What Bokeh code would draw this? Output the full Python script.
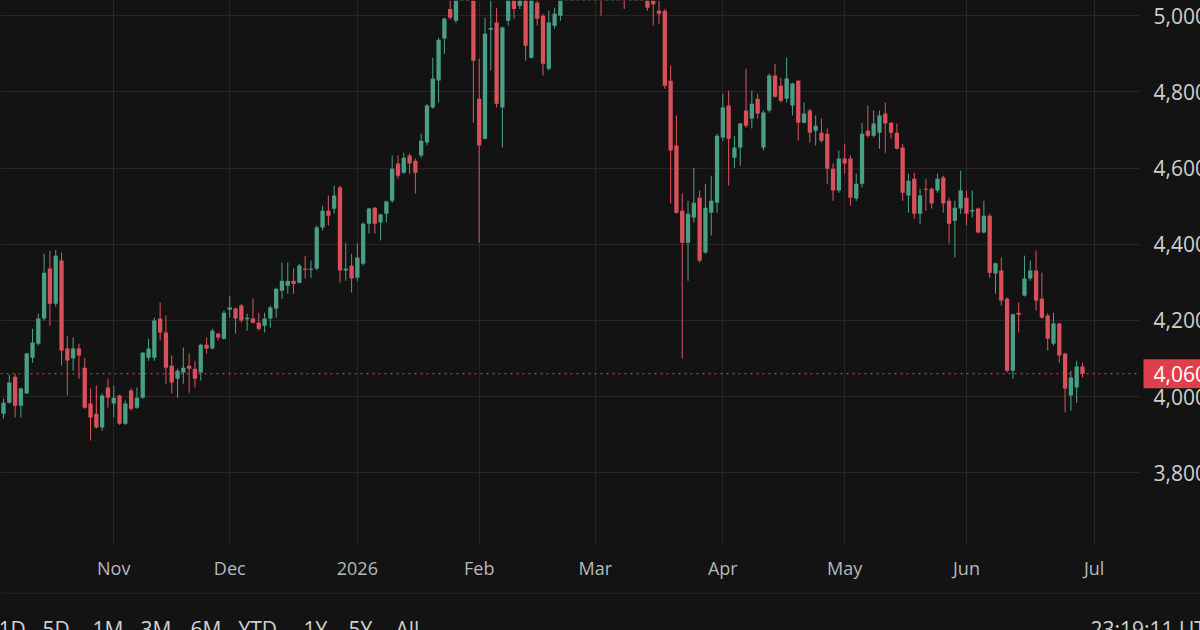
from bokeh.plotting import figure
from bokeh.layouts import column, row
from bokeh.models import FixedTicker, LinearAxis, Span, Range1d, ColumnDataSource
from bokeh.core.properties import value
from bokeh.embed import file_html
from bokeh.resources import INLINE

# ---------------- data (daily OHLC) ----------------
opens = [3955, 3984, 4052, 3976, 4008, 4102, 4139, 4205, 4336, 4244,
         4357, 4126, 4100, 4126, 4076, 3982, 3955, 3919, 4024, 3982,
         4003, 3929, 4016, 3971, 3997, 4102, 4102, 4205, 4168, 4081,
         4047, 4063, 4081, 4073, 4063, 4136, 4126, 4165, 4152, 4228,
         4231, 4239, 4203, 4205, 4194, 4186, 4205, 4231, 4278, 4291,
         4304, 4299, 4336, 4333, 4336, 4444, 4488, 4493, 4549, 4331,
         4344, 4312, 4349, 4454, 4496, 4457, 4480, 4514, 4612, 4588,
         4633, 4619, 4633, 4667, 4759, 4830, 4940, 5018, 4987, 5070,
         5150, 5100, 4782, 4677, 4963, 4982, 4759, 4987, 5060, 5026,
         5080, 4890, 5034, 5000, 4861, 4974, 5000, 5060, 5120, 5100,
         5150, 5200, 5180, 5210, 5070, 5130, 5170, 5120, 5060, 5120,
         5100, 5090, 5060, 5013, 5013, 4829, 4659, 4488, 4404, 4470,
         4522, 4378, 4483, 4509, 4680, 4764, 4627, 4654, 4751, 4730,
         4782, 4654, 4751, 4843, 4816, 4782, 4764, 4829, 4719, 4751,
         4698, 4693, 4690, 4598, 4541, 4625, 4625, 4520, 4559, 4698,
         4685, 4693, 4743, 4719, 4693, 4654, 4528, 4572, 4480, 4546,
         4546, 4541, 4575, 4514, 4462, 4494, 4522, 4486, 4494, 4431,
         4475, 4323, 4331, 4257, 4068, 4220, 4265, 4310, 4331, 4257,
         4213, 4139, 4192, 4113, 4003, 4024, 4079]
highs = [3995, 4058, 4060, 4024, 4115, 4178, 4218, 4375, 4383, 4385,
         4378, 4160, 4155, 4139, 4102, 4021, 4029, 4008, 4047, 4029,
         4005, 3990, 4021, 4024, 4118, 4152, 4207, 4247, 4213, 4108,
         4073, 4129, 4113, 4094, 4139, 4155, 4178, 4168, 4226, 4265,
         4234, 4244, 4218, 4257, 4220, 4220, 4239, 4286, 4352, 4352,
         4336, 4349, 4370, 4357, 4449, 4501, 4528, 4554, 4554, 4404,
         4375, 4402, 4457, 4496, 4498, 4480, 4514, 4633, 4633, 4640,
         4638, 4625, 4690, 4769, 4890, 4942, 4995, 5060, 5100, 5180,
         5200, 5130, 4887, 4995, 5060, 5021, 4971, 5080, 5090, 5110,
         5100, 5090, 5070, 5005, 5013, 5021, 5090, 5140, 5180, 5160,
         5230, 5260, 5240, 5250, 5150, 5200, 5220, 5160, 5140, 5180,
         5150, 5120, 5100, 5050, 5018, 4869, 4738, 4533, 4514, 4601,
         4541, 4559, 4580, 4690, 4795, 4803, 4685, 4719, 4861, 4803,
         4795, 4751, 4848, 4874, 4837, 4890, 4824, 4831, 4772, 4756,
         4738, 4730, 4704, 4612, 4646, 4664, 4633, 4585, 4719, 4764,
         4751, 4751, 4772, 4721, 4717, 4664, 4585, 4588, 4546, 4572,
         4549, 4585, 4580, 4522, 4514, 4593, 4541, 4541, 4496, 4514,
         4480, 4352, 4365, 4260, 4218, 4247, 4370, 4357, 4383, 4325,
         4218, 4220, 4194, 4115, 4068, 4094, 4089]
lows = [3942, 3982, 3945, 3945, 4008, 4089, 4134, 4200, 4186, 4236,
        4081, 4003, 4068, 4047, 3968, 3885, 3916, 3911, 3971, 3945,
        3926, 3926, 3963, 3968, 3994, 4094, 4094, 4147, 4034, 4008,
        3997, 4034, 4010, 4024, 4042, 4113, 4124, 4147, 4150, 4207,
        4165, 4194, 4173, 4192, 4173, 4168, 4181, 4207, 4257, 4270,
        4270, 4297, 4310, 4312, 4331, 4436, 4449, 4480, 4299, 4304,
        4273, 4304, 4344, 4428, 4428, 4410, 4457, 4509, 4572, 4585,
        4585, 4533, 4627, 4659, 4756, 4772, 4900, 4990, 4980, 5050,
        5080, 4719, 4404, 4675, 4856, 4759, 4654, 4974, 4992, 5018,
        4882, 4888, 4974, 4843, 4856, 4966, 4987, 5050, 5080, 5070,
        5120, 5150, 5130, 5000, 5050, 5090, 5100, 5018, 5045, 5070,
        5055, 5013, 4974, 4979, 4808, 4507, 4480, 4100, 4304, 4457,
        4352, 4375, 4423, 4483, 4672, 4554, 4601, 4606, 4706, 4704,
        4730, 4646, 4746, 4785, 4772, 4772, 4738, 4672, 4717, 4667,
        4659, 4667, 4559, 4514, 4535, 4585, 4501, 4514, 4549, 4680,
        4680, 4651, 4640, 4677, 4649, 4514, 4483, 4467, 4454, 4488,
        4494, 4535, 4483, 4402, 4365, 4480, 4449, 4470, 4428, 4428,
        4312, 4270, 4239, 4063, 4047, 4168, 4263, 4304, 4226, 4205,
        4121, 4134, 4089, 3958, 3963, 3984, 4050]
closes = [3984, 4037, 3976, 4021, 4113, 4142, 4205, 4325, 4244, 4370,
          4121, 4095, 4126, 4108, 3971, 3945, 3919, 4003, 3997, 3997,
          3929, 3982, 3968, 3997, 4115, 4126, 4200, 4168, 4076, 4037,
          4068, 4076, 4073, 4047, 4136, 4126, 4173, 4155, 4220, 4234,
          4205, 4200, 4207, 4194, 4178, 4205, 4234, 4283, 4304, 4304,
          4296, 4344, 4333, 4336, 4444, 4488, 4475, 4528, 4331, 4336,
          4310, 4365, 4454, 4494, 4454, 4478, 4512, 4598, 4580, 4627,
          4612, 4588, 4672, 4764, 4835, 4937, 4992, 4995, 5070, 5150,
          5100, 4882, 4659, 4953, 4968, 4769, 4969, 5045, 5018, 5080,
          4921, 5060, 4992, 4874, 4982, 5005, 5060, 5120, 5100, 5150,
          5200, 5180, 5210, 5070, 5130, 5170, 5120, 5060, 5120, 5100,
          5090, 5021, 5030, 5005, 4816, 4646, 4483, 4404, 4480, 4509,
          4357, 4496, 4514, 4685, 4759, 4677, 4654, 4717, 4711, 4769,
          4743, 4746, 4843, 4787, 4777, 4835, 4822, 4719, 4743, 4693,
          4711, 4672, 4598, 4541, 4625, 4612, 4522, 4559, 4690, 4685,
          4717, 4738, 4717, 4693, 4651, 4535, 4567, 4480, 4528, 4543,
          4507, 4572, 4507, 4454, 4496, 4541, 4480, 4490, 4431, 4475,
          4325, 4350, 4252, 4068, 4216, 4215, 4310, 4331, 4252, 4207,
          4152, 4192, 4108, 4021, 4050, 4079, 4060]

month_ticks = [19, 39, 61, 82, 102, 124, 145, 166, 188]
month_labels = ["Nov", "Dec", "2026", "Feb", "Mar", "Apr", "May", "Jun", "Jul"]
price_ticks = [3800, 4000, 4200, 4400, 4600, 4800, 5000]
price_labels = ["3,800", "4,000", "4,200", "4,400", "4,600", "4,800", "5,000"]
range_buttons = ["1D", "5D", "1M", "3M", "6M", "YTD", "1Y", "5Y", "All"]
clock_text = "23:19:11 UTC"

# ---------------- style ----------------
BG = "#131313"
GRID = "#262626"
UP = "#4a9e86"
DOWN = "#d9505a"
TAG = "#df3f4b"
FONT = "Open Sans"
CSS = {"background-color": BG}

n = len(opens)
xs = list(range(n))
colors = [UP if c >= o else DOWN for o, c in zip(opens, closes)]
src = ColumnDataSource(dict(
    x=xs, o=opens, h=highs, l=lows, c=closes,
    top=[max(o, c) for o, c in zip(opens, closes)],
    bot=[min(o, c) for o, c in zip(opens, closes)],
    col=colors))

PANE_H, AXIS_H = 545, 47

# ---------------- main pane (candles + time axis) ----------------
p = figure(width=1140, height=PANE_H + AXIS_H, output_backend="svg", toolbar_location=None,
           x_range=Range1d(-0.52, 196.0), y_range=Range1d(3609, 5040),
           min_border_left=0, min_border_top=0, min_border_right=0, min_border_bottom=AXIS_H,
           background_fill_color=BG, border_fill_color=BG, outline_line_color=None,
           styles=CSS)
p.xaxis.visible = False
p.yaxis.visible = False

# wicks (thin bars) and bodies
p.vbar(x="x", width=0.18, top="h", bottom="l", fill_color="col", line_color=None,
       source=src)
p.vbar(x="x", width=0.74, top="top", bottom="bot", fill_color="col", line_color=None,
       source=src)

xa = LinearAxis(ticker=FixedTicker(ticks=month_ticks),
                major_label_overrides={t: s for t, s in zip(month_ticks, month_labels)},
                axis_line_color=None, major_tick_line_color=None, minor_tick_line_color=None,
                major_label_standoff=4, major_label_text_color="#b8b8b8",
                major_label_text_font=FONT, major_label_text_font_size="18px")
p.add_layout(xa, "below")

p.xgrid.ticker = FixedTicker(ticks=month_ticks)
p.ygrid.ticker = FixedTicker(ticks=price_ticks)
p.xgrid.grid_line_color = GRID
p.ygrid.grid_line_color = GRID

last_price = closes[-1]
p.add_layout(Span(location=last_price, dimension="width", line_color=DOWN,
                  line_width=1, line_dash="2 4"))

# ---------------- price scale (right), sharing the pane's price range ----------------
s = figure(width=60, height=PANE_H + AXIS_H, output_backend="svg", toolbar_location=None,
           x_range=Range1d(0, 60), y_range=p.y_range,
           min_border_left=0, min_border_top=0, min_border_right=0, min_border_bottom=AXIS_H,
           background_fill_color=BG, border_fill_color=BG, outline_line_color=None,
           styles=CSS)
s.axis.visible = False
s.grid.visible = False
s.text(x=[13] * len(price_ticks), y=price_ticks, text=price_labels,
       text_baseline="middle", text_align="left", text_color="#cfcfcf",
       text_font=value(FONT), text_font_size="21px")
s.rect(x=[33], y=[last_price], width=[60], height=[29],
       width_units="screen", height_units="screen",
       fill_color=TAG, line_color=None)
s.text(x=[13], y=[last_price], text=[f"{last_price:,}"],
       text_baseline="middle", text_align="left", text_color="#ffffff",
       text_font=value(FONT), text_font_size="21px")

# ---------------- bottom bar ----------------
b = figure(width=1200, height=38, output_backend="svg", toolbar_location=None,
           x_range=Range1d(0, 1200), y_range=Range1d(0, 38),
           min_border_left=0, min_border_top=0, min_border_right=0, min_border_bottom=0,
           background_fill_color=BG, border_fill_color=BG, outline_line_color=None,
           styles=CSS)
b.axis.visible = False
b.grid.visible = False
b.add_layout(Span(location=37.5, dimension="width", line_color="#2e2e2e", line_width=1))
btn_x = [-2, 42, 92, 140, 190, 238, 303, 348, 395]
b.text(x=btn_x, y=[2] * len(range_buttons), text=range_buttons,
       text_baseline="alphabetic", text_align="left", text_color="#d0d0d0",
       text_font=value(FONT), text_font_size="21px")
b.text(x=[1090], y=[2], text=[clock_text],
       text_baseline="alphabetic", text_align="left", text_color="#d0d0d0",
       text_font=value(FONT), text_font_size="21px")

layout = column(row(p, s, spacing=0, styles=CSS), b, spacing=0, styles=CSS)
open("out.html", "w").write(file_html(layout, INLINE))
